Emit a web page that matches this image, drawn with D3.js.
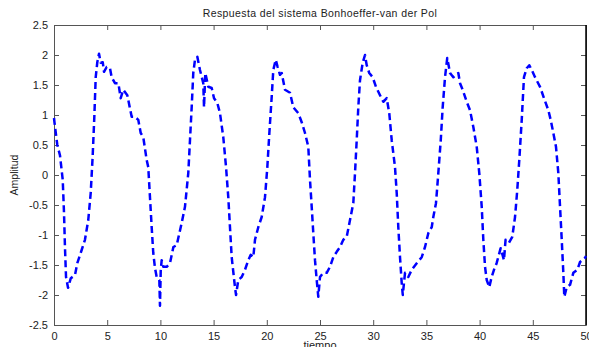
<!DOCTYPE html>
<html>
<head>
<meta charset="utf-8">
<script src="https://cdn.jsdelivr.net/npm/d3@7"></script>
<style>
  html, body { margin: 0; padding: 0; background: #fff; }
  svg { display: block; font-family: "Liberation Sans", Arial, sans-serif; }
</style>
</head>
<body>
<svg id="chart" width="589" height="347"></svg>
<script>
// values
const tiempo = [
  0.00, 0.05, 0.31, 0.56, 0.82, 0.94, 1.03, 1.13, 1.32, 1.58, 1.97, 2.19, 2.60, 2.91, 3.22, 3.45, 3.63, 3.79, 3.92, 4.07,
  4.23, 4.39, 4.58, 4.70, 4.95, 5.26, 5.42, 5.73, 6.05, 6.27, 6.51, 6.89, 7.30, 7.61, 7.92, 8.15, 8.39, 8.71, 8.86, 9.02,
  9.18, 9.33, 9.49, 9.65, 9.90, 9.96, 10.03, 10.12, 10.27, 10.59, 10.90, 11.22, 11.53, 12.00, 12.31, 12.62, 12.78, 12.94, 13.09, 13.25,
  13.47, 13.72, 14.03, 14.10, 14.22, 14.50, 14.82, 15.04, 15.35, 15.60, 15.91, 16.17, 16.38, 16.54, 16.70, 17.01, 17.11, 17.32, 17.64, 17.95,
  18.26, 18.49, 18.73, 18.89, 19.20, 19.52, 19.83, 20.05, 20.24, 20.46, 20.61, 20.84, 21.02, 21.24, 21.40, 21.71, 22.18, 22.49, 22.96, 23.28,
  23.59, 23.90, 24.06, 24.22, 24.37, 24.53, 24.69, 24.84, 25.00, 25.31, 25.63, 25.94, 26.25, 26.57, 26.88, 27.19, 27.51, 27.82, 28.13, 28.29,
  28.45, 28.60, 28.76, 29.01, 29.23, 29.39, 29.63, 29.95, 30.26, 30.64, 30.95, 31.27, 31.51, 31.74, 32.05, 32.21, 32.36, 32.52, 32.68, 32.78,
  32.99, 33.30, 33.62, 34.09, 34.56, 34.87, 35.18, 35.50, 35.65, 35.90, 36.12, 36.35, 36.53, 36.75, 36.96, 37.22, 37.53, 38.00, 38.16, 38.41,
  38.79, 39.10, 39.41, 39.73, 39.97, 40.20, 40.35, 40.51, 40.67, 40.91, 41.13, 41.35, 41.60, 41.98, 42.29, 42.44, 42.76, 43.07, 43.33, 43.54,
  43.73, 43.96, 44.17, 44.43, 44.67, 44.90, 45.21, 45.68, 46.05, 46.46, 46.68, 46.93, 47.18, 47.40, 47.56, 47.72, 47.87, 47.96, 48.19, 48.50,
  48.81, 49.19, 49.44, 49.91, 50.00
];
const amplitud = [
  0.95, 0.87, 0.50, 0.33, -0.08, -0.63, -1.20, -1.70, -1.88, -1.72, -1.67, -1.47, -1.25, -1.08, -0.75, -0.30, 0.30, 0.97, 1.63, 1.88,
  2.02, 1.87, 1.88, 1.72, 1.80, 1.78, 1.63, 1.53, 1.53, 1.28, 1.42, 1.33, 0.97, 0.97, 0.92, 0.70, 0.63, 0.25, 0.13, -0.37,
  -0.87, -1.30, -1.55, -1.70, -1.75, -2.18, -1.60, -1.42, -1.53, -1.53, -1.47, -1.20, -1.17, -0.80, -0.53, 0.03, 0.58, 1.13, 1.70, 1.92,
  1.97, 1.75, 1.53, 1.13, 1.70, 1.47, 1.45, 1.28, 1.20, 1.03, 0.63, 0.13, -0.37, -0.87, -1.37, -1.87, -2.00, -1.75, -1.70, -1.58,
  -1.42, -1.33, -1.37, -1.08, -0.87, -0.70, -0.37, 0.13, 0.70, 1.30, 1.75, 1.92, 1.80, 1.67, 1.70, 1.42, 1.37, 1.13, 1.03, 0.88,
  0.70, 0.47, -0.08, -0.53, -0.97, -1.42, -1.75, -2.03, -1.70, -1.63, -1.63, -1.53, -1.37, -1.28, -1.20, -1.08, -1.03, -0.75, -0.47, 0.03,
  0.58, 1.13, 1.58, 1.87, 2.00, 1.83, 1.70, 1.63, 1.47, 1.33, 1.22, 1.28, 1.03, 0.58, 0.13, -0.30, -0.87, -1.37, -1.80, -2.00,
  -1.63, -1.70, -1.58, -1.47, -1.37, -1.20, -0.97, -0.87, -0.70, -0.47, 0.03, 0.58, 1.13, 1.63, 1.95, 1.70, 1.63, 1.70, 1.53, 1.42,
  1.22, 1.08, 0.80, 0.47, 0.03, -0.53, -1.08, -1.53, -1.75, -1.87, -1.70, -1.58, -1.47, -1.22, -1.42, -1.08, -1.13, -1.03, -0.70, -0.25,
  0.25, 0.92, 1.63, 1.78, 1.83, 1.75, 1.63, 1.47, 1.28, 1.08, 0.92, 0.70, 0.47, 0.03, -0.53, -1.08, -1.63, -2.03, -1.87, -1.83,
  -1.63, -1.58, -1.45, -1.38, -1.35
];
const xTicks = [0, 5, 10, 15, 20, 25, 30, 35, 40, 45, 50];
const yTicks = [-2.5, -2, -1.5, -1, -0.5, 0, 0.5, 1, 1.5, 2, 2.5];

const margin = { top: 25, right: 3, bottom: 22, left: 54 };
const width = 589, height = 347;

const svg = d3.select("#chart");

const x = d3.scaleLinear().domain([0, 50]).range([margin.left, width - margin.right]);
const y = d3.scaleLinear().domain([-2.5, 2.5]).range([height - margin.bottom, margin.top]);

const fmt = d => String(d);
const tickLen = 5;

// bottom / top axes
const gx = svg.append("g")
    .attr("transform", `translate(0,${y(-2.5)})`)
    .call(d3.axisBottom(x).tickValues(xTicks).tickFormat(fmt).tickSizeInner(-tickLen).tickSizeOuter(0).tickPadding(7));
svg.append("g")
    .attr("transform", `translate(0,${y(2.5)})`)
    .call(d3.axisTop(x).tickValues(xTicks).tickFormat("").tickSizeInner(-tickLen).tickSizeOuter(0));

// left / right axes
svg.append("g")
    .attr("transform", `translate(${x(0)},0)`)
    .call(d3.axisLeft(y).tickValues(yTicks).tickFormat(fmt).tickSizeInner(-tickLen).tickSizeOuter(0).tickPadding(6));
svg.append("g")
    .attr("transform", `translate(${x(50)},0)`)
    .call(d3.axisRight(y).tickValues(yTicks).tickFormat("").tickSizeInner(-tickLen).tickSizeOuter(0));

svg.selectAll(".tick line").attr("stroke", "#555");
svg.selectAll(".domain").attr("stroke", "#555");
svg.selectAll(".tick text").attr("font-size", 11).attr("fill", "#222")
    .attr("font-family", "'Liberation Sans', Arial, sans-serif");

// dark right edge as in the reference
svg.append("line")
    .attr("x1", x(50)).attr("x2", x(50))
    .attr("y1", y(2.5)).attr("y2", y(-2.5))
    .attr("stroke", "#000").attr("stroke-width", 1.5);

// data line
const line = d3.line()
    .x((d, i) => x(tiempo[i]))
    .y(d => y(d));

svg.append("path")
    .datum(amplitud)
    .attr("fill", "none")
    .attr("stroke", "#0000ff")
    .attr("stroke-width", 2.5)
    .attr("stroke-dasharray", "7,4")
    .attr("stroke-linejoin", "round")
    .attr("d", line);

// labels
svg.append("text")
    .attr("x", (x(0) + x(50)) / 2).attr("y", 17)
    .attr("text-anchor", "middle")
    .attr("font-size", 10.5)
    .attr("letter-spacing", 0.4)
    .attr("fill", "#222")
    .text("Respuesta del sistema Bonhoeffer-van der Pol");

svg.append("text")
    .attr("x", (x(0) + x(50)) / 2).attr("y", 349)
    .attr("text-anchor", "middle")
    .attr("font-size", 11)
    .attr("fill", "#222")
    .text("tiempo");

svg.append("text")
    .attr("transform", `translate(18,${y(0)}) rotate(-90)`)
    .attr("text-anchor", "middle")
    .attr("font-size", 10.5)
    .attr("fill", "#222")
    .text("Amplitud");
</script>
</body>
</html>
